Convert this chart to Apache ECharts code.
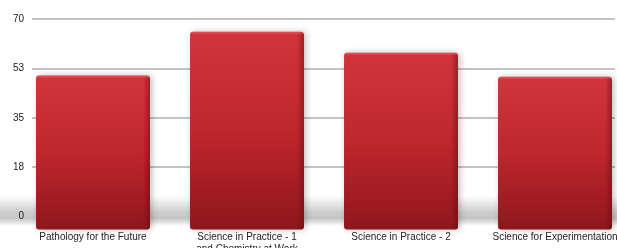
<!DOCTYPE html>
<html>
<head>
<meta charset="utf-8">
<style>
  html, body { margin: 0; padding: 0; background: #fff; }
  #chart { width: 617px; height: 248px; }
</style>
<script src="https://cdn.jsdelivr.net/npm/echarts@6/dist/echarts.min.js"></script>
</head>
<body>
<div id="chart"></div>
<script>
// data
const categories = [
  'Pathology for the Future',
  'Science in Practice - 1\nand Chemistry at Work',
  'Science in Practice - 2',
  'Science for Experimentation'
];
const values = [50, 65.5, 58, 49.5];
const yMin = 0;
const yMax = 70;
const yStep = 17.5;

const chart = echarts.init(document.getElementById('chart'));

// 3d looking bar: front face from value down to the floor, plus a dark right edge
const depth = 13;
function renderBar(params, api) {
  const top = api.coord([api.value(0), api.value(1)]);
  const base = api.coord([api.value(0), 0]);
  const w = api.size([1, 0])[0] * 0.74;
  const x = top[0] - w / 2;
  const h = base[1] + depth - top[1];
  return {
    type: 'group',
    children: [
      {
        type: 'rect',
        shape: { x: x, y: top[1], width: w, height: h, r: 3 },
        style: {
          fill: new echarts.graphic.LinearGradient(0, 0, 0, 1, [
            { offset: 0, color: '#d1353c' },
            { offset: 0.5, color: '#bf262d' },
            { offset: 1, color: '#8e171c' }
          ]),
          shadowColor: 'rgba(0,0,0,0.25)',
          shadowBlur: 6,
          shadowOffsetX: 2
        }
      },
      {
        type: 'rect',
        shape: { x: x + w - 7, y: top[1] + 1, width: 7, height: h - 1, r: [0, 3, 3, 0] },
        style: {
          fill: new echarts.graphic.LinearGradient(0, 0, 1, 0, [
            { offset: 0, color: 'rgba(90,10,14,0)' },
            { offset: 1, color: 'rgba(90,10,14,0.45)' }
          ])
        }
      },
      {
        type: 'rect',
        shape: { x: x + 1, y: top[1], width: w - 2, height: 2 },
        style: { fill: 'rgba(255,120,120,0.35)' }
      }
    ]
  };
}

const option = {
  backgroundColor: '#fff',
  animation: false,
  graphic: [
    {
      type: 'rect',
      z: -10,
      shape: { x: 0, y: 196, width: 617, height: 30 },
      style: {
        fill: new echarts.graphic.LinearGradient(0, 0, 0, 1, [
          { offset: 0, color: 'rgba(0,0,0,0)' },
          { offset: 0.55, color: 'rgba(0,0,0,0.2)' },
          { offset: 0.75, color: 'rgba(0,0,0,0.22)' },
          { offset: 1, color: 'rgba(0,0,0,0)' }
        ])
      }
    }
  ],
  grid: [
    { left: 32, right: 2, top: 19, bottom: 31.5, outerBoundsMode: 'none' },
    { left: 16, width: 616, top: 19, bottom: 31.5, outerBoundsMode: 'none' }
  ],
  xAxis: [
    { type: 'category', gridIndex: 0, data: categories, show: false },
    {
      type: 'category', gridIndex: 1, data: categories,
      axisLine: { show: false }, axisTick: { show: false },
      axisLabel: {
        margin: 15, interval: 0, color: '#222', fontSize: 10,
        fontFamily: 'Liberation Sans', lineHeight: 12
      }
    }
  ],
  yAxis: [
    {
      type: 'value', gridIndex: 0, min: yMin, max: yMax, interval: yStep,
      axisLine: { show: false }, axisTick: { show: false },
      axisLabel: {
        margin: 8, color: '#222', fontSize: 10, fontFamily: 'Liberation Sans',
        formatter: v => Math.round(v)
      },
      splitLine: { lineStyle: { color: '#c4c4c4', width: 2 } }
    },
    {
      type: 'value', gridIndex: 1, min: yMin, max: yMax, interval: yStep,
      show: false, splitLine: { show: false }
    }
  ],
  series: [
    {
      type: 'custom',
      xAxisIndex: 1,
      yAxisIndex: 1,
      renderItem: renderBar,
      encode: { x: 0, y: 1 },
      data: values.map((v, i) => [i, v])
    }
  ]
};

chart.setOption(option);
</script>
</body>
</html>
